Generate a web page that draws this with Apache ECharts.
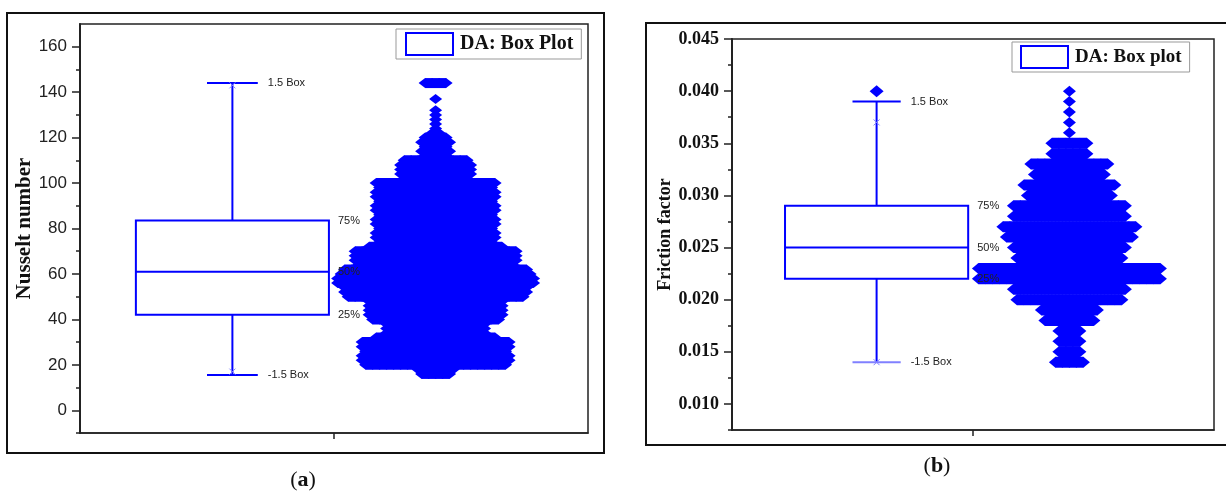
<!doctype html>
<html>
<head>
<meta charset="utf-8">
<title>DA: Box Plot</title>
<style>
  html, body { margin: 0; padding: 0; background: #fff; }
  #main { width: 1226px; height: 494px; }
</style>
</head>
<body>
<div id="main"></div>
<script src="https://cdn.jsdelivr.net/npm/echarts@6/dist/echarts.min.js"></script>
<script>
// (a) Nusselt number
var nuBox = [15.5, 42, 61, 83.5, 144];      // low whisker, q1, median, q3, high whisker
var nuMarks = [17, 143];
var nuLevels = [144, 137, 132, 130, 128, 126, 124, 122, 120, 118, 116, 114, 112,
  110, 108, 106, 104, 102, 100, 98, 96, 94, 92, 90, 88, 86, 84, 82, 80, 78, 76, 74,
  72, 70, 68, 66, 64, 62, 60, 58, 56, 54, 52, 50, 48, 46, 44, 42, 40, 38, 36, 34,
  32, 30, 28, 26, 24, 22, 20, 18, 16];
var nuCounts = [4, 1, 1, 1, 1, 1, 1, 2, 4, 5, 4, 5, 4,
  10, 11, 11, 11, 10, 18, 17, 18, 18, 17, 18, 18, 17, 18, 18, 17, 18, 18, 17,
  20, 24, 24, 24, 23, 27, 28, 29, 29, 27, 27, 26, 20, 20, 20, 20, 19, 15, 15, 15,
  18, 22, 22, 21, 22, 22, 21, 6, 5];
var nuTicks = [0, 20, 40, 60, 80, 100, 120, 140, 160];
var nuMinorTicks = [-10, 10, 30, 50, 70, 90, 110, 130, 150];

// (b) Friction factor
var ffBox = [0.014, 0.022, 0.025, 0.029, 0.039];
var ffMarks = [0.014, 0.037];
var ffOutliers = [0.040];
var ffLevels = [0.040, 0.039, 0.038, 0.037, 0.036, 0.035, 0.034, 0.033, 0.032,
  0.031, 0.030, 0.029, 0.028, 0.027, 0.026, 0.025, 0.024, 0.023, 0.022, 0.021,
  0.020, 0.019, 0.018, 0.017, 0.016, 0.015, 0.014];
var ffCounts = [1, 1, 1, 1, 1, 6, 6, 12, 11, 14, 13, 17, 17, 20, 19, 17, 16, 27, 27,
  17, 16, 9, 8, 4, 4, 4, 5];
var ffTicks = [0.010, 0.015, 0.020, 0.025, 0.030, 0.035, 0.040, 0.045];
var ffMinorTicks = [0.0075, 0.0125, 0.0175, 0.0225, 0.0275, 0.0325, 0.0375, 0.0425];

var boxLabels = ['1.5 Box', '-1.5 Box', '75%', '50%', '25%'];

var BLUE = '#0000ff';
var LIGHT = '#8080ff';
var BOX_X = -0.4, SWARM_X = 0.4;

function boxRenderer(marks, outliers, lowCap) {
  return function (params, api) {
    var c = api.value(0), hw = 0.38, cw = 0.1;
    var lo = api.coord([c - hw, api.value(2)]);
    var hi = api.coord([c + hw, api.value(4)]);
    var med = api.coord([c, api.value(3)]);
    var top = api.coord([c, api.value(5)]);
    var bot = api.coord([c, api.value(1)]);
    var capL = api.coord([c - cw, 0])[0], capR = api.coord([c + cw, 0])[0];
    var ln = { stroke: BLUE, lineWidth: 2 };
    var kids = [
      { type: 'rect', shape: { x: lo[0], y: hi[1], width: hi[0] - lo[0], height: lo[1] - hi[1] },
        style: { fill: null, stroke: BLUE, lineWidth: 2 } },
      { type: 'line', shape: { x1: lo[0], y1: med[1], x2: hi[0], y2: med[1] }, style: ln },
      { type: 'line', shape: { x1: top[0], y1: top[1], x2: top[0], y2: hi[1] }, style: ln },
      { type: 'line', shape: { x1: bot[0], y1: lo[1], x2: bot[0], y2: bot[1] }, style: ln },
      { type: 'line', shape: { x1: capL, y1: top[1], x2: capR, y2: top[1] }, style: ln },
      { type: 'line', shape: { x1: capL, y1: bot[1], x2: capR, y2: bot[1] },
        style: { stroke: lowCap, lineWidth: 2 } }
    ];
    marks.forEach(function (m) {
      var p = api.coord([c, m]);
      kids.push({ type: 'line', shape: { x1: p[0] - 3, y1: p[1] - 3, x2: p[0] + 3, y2: p[1] + 3 },
        style: { stroke: LIGHT, lineWidth: 1 } });
      kids.push({ type: 'line', shape: { x1: p[0] - 3, y1: p[1] + 3, x2: p[0] + 3, y2: p[1] - 3 },
        style: { stroke: LIGHT, lineWidth: 1 } });
    });
    outliers.forEach(function (o) {
      var p = api.coord([c, o]);
      kids.push({ type: 'polygon', shape: { points: [[p[0], p[1] - 6], [p[0] + 7, p[1]], [p[0], p[1] + 6], [p[0] - 7, p[1]]] },
        style: { fill: BLUE } });
    });
    var tx = { fill: '#222', fontSize: 11, fontFamily: 'Liberation Sans', align: 'left', verticalAlign: 'middle' };
    var spots = [[capR + 10, top[1]], [capR + 10, bot[1]], [hi[0] + 9, hi[1]], [hi[0] + 9, med[1]], [hi[0] + 9, lo[1]]];
    spots.forEach(function (s, i) {
      kids.push({ type: 'text', x: s[0], y: s[1], style: Object.assign({ text: boxLabels[i] }, tx) });
    });
    return { type: 'group', children: kids };
  };
}

// each row: n overlapping diamonds; the overlap fills into a solid band
function swarmRenderer(halfH) {
  return function (params, api) {
    var p = api.coord([api.value(0), api.value(1)]);
    var n = api.value(2), step = 7, hw = 6.5;
    var x0 = p[0] - (n - 1) / 2 * step, x1 = p[0] + (n - 1) / 2 * step;
    var kids = [];
    for (var i = 0; i < n; i++) {
      var x = x0 + i * step;
      kids.push({ type: 'polygon',
        shape: { points: [[x, p[1] - halfH], [x + hw, p[1]], [x, p[1] + halfH], [x - hw, p[1]]] },
        style: { fill: BLUE } });
    }
    if (n > 1) {
      kids.push({ type: 'rect', shape: { x: x0, y: p[1] - halfH, width: x1 - x0, height: halfH * 2 },
        style: { fill: BLUE } });
    }
    return { type: 'group', children: kids };
  };
}

function swarmData(levels, counts) {
  return levels.map(function (v, i) { return [SWARM_X, v, counts[i]]; });
}

function xAxisFor(grid) {
  return {
    type: 'value', gridIndex: grid, min: -1, max: 1,
    axisLine: { onZero: false, lineStyle: { color: '#222', width: 1.5 } },
    axisTick: { customValues: [0], length: 6, lineStyle: { color: '#222', width: 1.5 } },
    axisLabel: { show: false }, splitLine: { show: false }
  };
}

var chart = echarts.init(document.getElementById('main'));

chart.setOption({
  animation: false,
  backgroundColor: '#fff',
  grid: [
    { left: 80, top: 24, width: 508, height: 409, show: true, borderColor: '#222', borderWidth: 1.5 },
    { left: 732, top: 39, width: 482, height: 391, show: true, borderColor: '#222', borderWidth: 1.5 }
  ],
  xAxis: [xAxisFor(0), xAxisFor(1)],
  yAxis: [
    {
      type: 'value', gridIndex: 0, min: -10, max: 170,
      name: 'Nusselt number', nameLocation: 'middle', nameGap: 44,
      nameTextStyle: { fontFamily: 'Liberation Serif', fontWeight: 'bold', fontSize: 21, color: '#111' },
      axisLine: { show: true, onZero: false, lineStyle: { color: '#222', width: 2 } },
      axisTick: { customValues: nuTicks, length: 8, lineStyle: { color: '#222', width: 1.5 } },
      axisLabel: { customValues: nuTicks, margin: 13, fontFamily: 'Liberation Sans', fontSize: 17, color: '#222' },
      splitLine: { show: false }
    },
    {
      type: 'value', gridIndex: 0, min: -10, max: 170, position: 'left',
      axisLine: { show: false, onZero: false },
      axisTick: { customValues: nuMinorTicks, length: 4, lineStyle: { color: '#222', width: 1.5 } },
      axisLabel: { show: false }, splitLine: { show: false }
    },
    {
      type: 'value', gridIndex: 1, min: 0.0075, max: 0.045,
      name: 'Friction factor', nameLocation: 'middle', nameGap: 58,
      nameTextStyle: { fontFamily: 'Liberation Serif', fontWeight: 'bold', fontSize: 18, color: '#111' },
      axisLine: { show: true, onZero: false, lineStyle: { color: '#222', width: 2 } },
      axisTick: { customValues: ffTicks, length: 8, lineStyle: { color: '#222', width: 1.5 } },
      axisLabel: { customValues: ffTicks, margin: 13, fontFamily: 'Liberation Serif', fontWeight: 'bold',
        fontSize: 18, color: '#111', formatter: function (v) { return v.toFixed(3); } },
      splitLine: { show: false }
    },
    {
      type: 'value', gridIndex: 1, min: 0.0075, max: 0.045, position: 'left',
      axisLine: { show: false, onZero: false },
      axisTick: { customValues: ffMinorTicks, length: 4, lineStyle: { color: '#222', width: 1.5 } },
      axisLabel: { show: false }, splitLine: { show: false }
    }
  ],
  legend: [
    {
      left: 396, top: 29, padding: [3, 8, 3, 9], itemWidth: 47, itemHeight: 22,
      borderColor: '#999', borderWidth: 1, selectedMode: false,
      textStyle: { fontFamily: 'Liberation Serif', fontWeight: 'bold', fontSize: 20, color: '#111', padding: [0, 0, 0, 2] },
      data: [{ name: 'DA: Box Plot', icon: 'rect', itemStyle: { color: '#fff', borderColor: BLUE, borderWidth: 2 } }]
    },
    {
      left: 1012, top: 42, padding: [3, 8, 3, 8], itemWidth: 47, itemHeight: 22,
      borderColor: '#999', borderWidth: 1, selectedMode: false,
      textStyle: { fontFamily: 'Liberation Serif', fontWeight: 'bold', fontSize: 19, color: '#111', padding: [0, 0, 0, 2] },
      data: [{ name: 'DA: Box plot', icon: 'rect', itemStyle: { color: '#fff', borderColor: BLUE, borderWidth: 2 } }]
    }
  ],
  series: [
    {
      type: 'custom', name: 'DA: Box Plot', xAxisIndex: 0, yAxisIndex: 0, z: 3,
      renderItem: boxRenderer(nuMarks, [], BLUE),
      encode: { x: 0, y: [1, 2, 3, 4, 5] },
      data: [[BOX_X].concat(nuBox)]
    },
    {
      type: 'custom', name: 'swarmA', xAxisIndex: 0, yAxisIndex: 0, z: 2,
      renderItem: swarmRenderer(5), encode: { x: 0, y: 1 },
      data: swarmData(nuLevels, nuCounts)
    },
    {
      type: 'custom', name: 'DA: Box plot', xAxisIndex: 1, yAxisIndex: 2, z: 3,
      renderItem: boxRenderer(ffMarks, ffOutliers, LIGHT),
      encode: { x: 0, y: [1, 2, 3, 4, 5] },
      data: [[BOX_X].concat(ffBox)]
    },
    {
      type: 'custom', name: 'swarmB', xAxisIndex: 1, yAxisIndex: 2, z: 2,
      renderItem: swarmRenderer(5.5), encode: { x: 0, y: 1 },
      data: swarmData(ffLevels, ffCounts)
    }
  ],
  graphic: [
    { type: 'rect', shape: { x: 7, y: 13, width: 597, height: 440 },
      style: { fill: null, stroke: '#111', lineWidth: 2 } },
    { type: 'rect', shape: { x: 646, y: 23, width: 620, height: 422 },
      style: { fill: null, stroke: '#111', lineWidth: 2 } },
    { type: 'text', x: 303, y: 480,
      style: { text: '{n|(}{b|a}{n|)}', align: 'center', verticalAlign: 'middle',
        rich: { n: { fontFamily: 'Liberation Serif', fontSize: 22, fill: '#111' },
                b: { fontFamily: 'Liberation Serif', fontSize: 22, fontWeight: 'bold', fill: '#111' } } } },
    { type: 'text', x: 937, y: 466,
      style: { text: '{n|(}{b|b}{n|)}', align: 'center', verticalAlign: 'middle',
        rich: { n: { fontFamily: 'Liberation Serif', fontSize: 22, fill: '#111' },
                b: { fontFamily: 'Liberation Serif', fontSize: 22, fontWeight: 'bold', fill: '#111' } } } }
  ]
});

window.onresize = chart.resize;
</script>
</body>
</html>
